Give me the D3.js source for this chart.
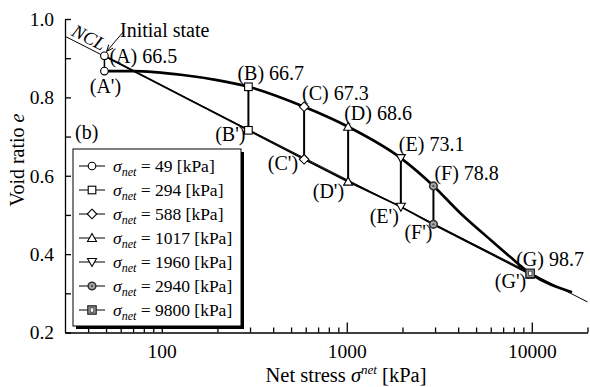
<!DOCTYPE html>
<html>
<head>
<meta charset="utf-8">
<script src="https://cdn.jsdelivr.net/npm/d3@7"></script>
<style>
  body { margin: 0; background: #fff; }
  svg { display: block; font-family: "Liberation Serif", "Times New Roman", serif; }
</style>
</head>
<body>
<svg id="chart" width="590" height="387"></svg>
<script>
// net stress steps and void ratios
const sigmaNet = [49, 294, 588, 1017, 1960, 2940, 9800];
const pointTags = ['A', 'B', 'C', 'D', 'E', 'F', 'G'];
const suctionLabels = ['66.5', '66.7', '67.3', '68.6', '73.1', '78.8', '98.7'];
const eUnprimed = [0.906, 0.827, 0.776, 0.725, 0.645, 0.574, 0.351];
const ePrimed = [0.867, 0.716, 0.642, 0.585, 0.521, 0.476, 0.349];

// thick loading path (A' -> G and beyond)
const pathStress = [49, 70, 130, 199, 294, 588, 1017, 1960, 2940, 4100, 5730, 7630, 9800, 16500];
const pathE = [0.867, 0.867, 0.857, 0.844, 0.827, 0.776, 0.725, 0.645, 0.574, 0.505, 0.444, 0.393, 0.351, 0.303];

// normal compression line
const nclStress = [30, 20000];
const nclE = [0.956, 0.278];

const xMajorTicks = [100, 1000, 10000];
const xMinorTicks = [40, 50, 60, 70, 80, 90, 200, 300, 400, 500, 600, 700, 800, 900,
                     2000, 3000, 4000, 5000, 6000, 7000, 8000, 9000, 20000];
const yMajorTicks = [0.2, 0.4, 0.6, 0.8, 1.0];
const yMinorTicks = [0.3, 0.5, 0.7, 0.9];

const legendStress = ['49', '294', '588', '1017', '1960', '2940', '9800'];
const markerTypes = ['circle', 'square', 'diamond', 'triUp', 'triDown', 'ring', 'boxed'];

const svg = d3.select('#chart');
const x = d3.scaleLog().domain([30, 20000]).range([65, 587.5]);
const y = d3.scaleLinear().domain([0.2, 1.0]).range([332.5, 19]);

// axes
const gx = svg.append('g').attr('transform', 'translate(0,332.5)');
gx.call(d3.axisBottom(x).tickValues(xMajorTicks).tickSizeInner(-10).tickSizeOuter(0)
        .tickPadding(12).tickFormat(d3.format('d')));
const gxm = svg.append('g').attr('transform', 'translate(0,332.5)');
gxm.call(d3.axisBottom(x).tickValues(xMinorTicks).tickSizeInner(-5).tickSizeOuter(0)
         .tickFormat(''));
gxm.select('.domain').remove();

const gy = svg.append('g').attr('transform', 'translate(65,0)');
gy.call(d3.axisLeft(y).tickValues(yMajorTicks).tickSizeInner(-6).tickSizeOuter(0)
        .tickPadding(11).tickFormat(d3.format('.1f')));
const gym = svg.append('g').attr('transform', 'translate(65,0)');
gym.call(d3.axisLeft(y).tickValues(yMinorTicks).tickSizeInner(-6).tickSizeOuter(0)
         .tickFormat(''));
gym.select('.domain').remove();

svg.selectAll('.domain, .tick line').attr('stroke', '#000').attr('stroke-width', 1.3);
svg.selectAll('.tick text').attr('font-family', 'Liberation Serif').attr('font-size', 19.5).attr('fill', '#000');

// axis titles
var xt = svg.append('text').attr('x', 346).attr('y', 382).attr('text-anchor', 'middle')
    .attr('font-size', 20.5);
xt.append('tspan').text('Net stress ');
xt.append('tspan').attr('font-style', 'italic').text('\u03C3');
xt.append('tspan').attr('font-style', 'italic').attr('font-size', 13).attr('dy', -8).text('net');
xt.append('tspan').attr('dy', 8).text(' [kPa]');

var yt = svg.append('text').attr('transform', 'translate(24,160) rotate(-90)')
    .attr('text-anchor', 'middle').attr('font-size', 20);
yt.append('tspan').text('Void ratio ');
yt.append('tspan').attr('font-style', 'italic').text('e');

// lines
const lineFn = d3.line().x(d => x(d[0])).y(d => y(d[1]));
svg.append('path')
    .attr('d', lineFn(nclStress.map((s, i) => [s, nclE[i]])))
    .attr('fill', 'none').attr('stroke', '#000').attr('stroke-width', 1);

svg.append('path')
    .attr('d', lineFn(sigmaNet.map((s, i) => [s, i === 0 ? eUnprimed[0] : ePrimed[i]])))
    .attr('fill', 'none').attr('stroke', '#000').attr('stroke-width', 1.8);

svg.append('path')
    .attr('d', lineFn.curve(d3.curveMonotoneX)(pathStress.map((s, i) => [s, pathE[i]])))
    .attr('fill', 'none').attr('stroke', '#000').attr('stroke-width', 2.6);

// vertical drops
for (var i = 0; i < sigmaNet.length - 1; i++) {
    svg.append('line')
        .attr('x1', x(sigmaNet[i])).attr('x2', x(sigmaNet[i]))
        .attr('y1', y(eUnprimed[i])).attr('y2', y(ePrimed[i]))
        .attr('stroke', '#000').attr('stroke-width', i === 0 ? 1.5 : 2);
}

function drawMarker(g, type, cx, cy) {
    var s = 3.8;
    if (type === 'circle') {
        g.append('circle').attr('cx', cx).attr('cy', cy).attr('r', s)
            .attr('fill', '#fff').attr('stroke', '#000').attr('stroke-width', 1.1);
    } else if (type === 'square') {
        g.append('rect').attr('x', cx - s).attr('y', cy - s).attr('width', 2 * s).attr('height', 2 * s)
            .attr('fill', '#fff').attr('stroke', '#000').attr('stroke-width', 1.1);
    } else if (type === 'diamond') {
        g.append('path').attr('d', `M${cx},${cy - 4.8}L${cx + 4.8},${cy}L${cx},${cy + 4.8}L${cx - 4.8},${cy}Z`)
            .attr('fill', '#fff').attr('stroke', '#000').attr('stroke-width', 1.1);
    } else if (type === 'triUp') {
        g.append('path').attr('d', `M${cx},${cy - 4.5}L${cx + 4.5},${cy + 3.5}L${cx - 4.5},${cy + 3.5}Z`)
            .attr('fill', '#fff').attr('stroke', '#000').attr('stroke-width', 1.1);
    } else if (type === 'triDown') {
        g.append('path').attr('d', `M${cx},${cy + 4.5}L${cx + 4.5},${cy - 3.5}L${cx - 4.5},${cy - 3.5}Z`)
            .attr('fill', '#fff').attr('stroke', '#000').attr('stroke-width', 1.1);
    } else if (type === 'ring') {
        g.append('circle').attr('cx', cx).attr('cy', cy).attr('r', s)
            .attr('fill', '#aaa').attr('stroke', '#333').attr('stroke-width', 1.6);
        g.append('circle').attr('cx', cx).attr('cy', cy).attr('r', 1.2).attr('fill', '#555');
    } else if (type === 'boxed') {
        g.append('rect').attr('x', cx - 4.2).attr('y', cy - 4.2).attr('width', 8.4).attr('height', 8.4)
            .attr('fill', '#999').attr('stroke', '#222').attr('stroke-width', 1.2);
        g.append('rect').attr('x', cx - 1.8).attr('y', cy - 2.2).attr('width', 3.6).attr('height', 4.4)
            .attr('fill', '#fff').attr('stroke', '#333').attr('stroke-width', 0.8);
    }
}

var marks = svg.append('g');
sigmaNet.forEach(function(s, i) {
    drawMarker(marks, markerTypes[i], x(s), y(ePrimed[i]));
    drawMarker(marks, markerTypes[i], x(s), y(eUnprimed[i]));
});

// point labels: offsets in pixels from the markers
const upperOffsets = [[5, 7, 'start'], [-11, -7, 'start'], [-2, -7, 'start'], [-4, -7, 'start'],
                      [-2, -7, 'start'], [1, -6, 'start'], [-14, -7, 'start']];
const lowerOffsets = [[1, 22, 'middle'], [-3, 11, 'end'], [-6, 11, 'end'], [-4, 16, 'end'],
                      [-2, 16, 'end'], [-1, 15, 'end'], [-4, 14, 'end']];
var labels = svg.append('g').attr('font-size', 20);
sigmaNet.forEach(function(s, i) {
    var o = upperOffsets[i];
    labels.append('text').attr('x', x(s) + o[0]).attr('y', y(eUnprimed[i]) + o[1])
        .attr('text-anchor', o[2]).text('(' + pointTags[i] + ') ' + suctionLabels[i]);
    var p = lowerOffsets[i];
    labels.append('text').attr('x', x(s) + p[0]).attr('y', y(ePrimed[i]) + p[1])
        .attr('text-anchor', p[2]).text('(' + pointTags[i] + "')");
});

// NCL label along the line
var ang = Math.atan2(y(nclE[1]) - y(nclE[0]), x(nclStress[1]) - x(nclStress[0])) * 180 / Math.PI;
svg.append('text')
    .attr('transform', 'translate(86,43) rotate(' + ang + ')')
    .attr('text-anchor', 'middle').attr('font-style', 'italic').attr('font-size', 18.5)
    .text('NCL');

// initial state annotation
svg.append('defs').append('marker').attr('id', 'arr').attr('viewBox', '0 0 10 10')
    .attr('refX', 9).attr('refY', 5).attr('markerWidth', 7).attr('markerHeight', 7)
    .attr('orient', 'auto')
    .append('path').attr('d', 'M0,1L10,5L0,9').attr('fill', 'none').attr('stroke', '#000').attr('stroke-width', 1.3);
svg.append('line').attr('x1', 124).attr('y1', 31).attr('x2', 107).attr('y2', 51)
    .attr('stroke', '#000').attr('stroke-width', 1).attr('marker-end', 'url(#arr)');
svg.append('text').attr('x', 120).attr('y', 37).attr('font-size', 20).text('Initial state');

svg.append('text').attr('x', 75).attr('y', 139).attr('font-size', 20).text('(b)');

// legend
var lg = svg.append('g');
lg.append('rect').attr('x', 76).attr('y', 152).attr('width', 168).attr('height', 177).attr('fill', '#000');
lg.append('rect').attr('x', 73).attr('y', 149).attr('width', 168).attr('height', 177)
    .attr('fill', '#fff').attr('stroke', '#000').attr('stroke-width', 1);
legendStress.forEach(function(v, i) {
    var cy = 166 + i * 24;
    lg.append('line').attr('x1', 79).attr('x2', 105).attr('y1', cy).attr('y2', cy)
        .attr('stroke', '#000').attr('stroke-width', 1);
    drawMarker(lg, markerTypes[i], 92, cy);
    var t = lg.append('text').attr('x', 113).attr('y', cy + 6).attr('font-size', 17.5);
    t.append('tspan').attr('font-style', 'italic').text('\u03C3');
    t.append('tspan').attr('font-style', 'italic').attr('font-size', 12).attr('dy', 4).text('net');
    t.append('tspan').attr('dy', -4).text(' = ' + v + ' [kPa]');
});
</script>
</body>
</html>
